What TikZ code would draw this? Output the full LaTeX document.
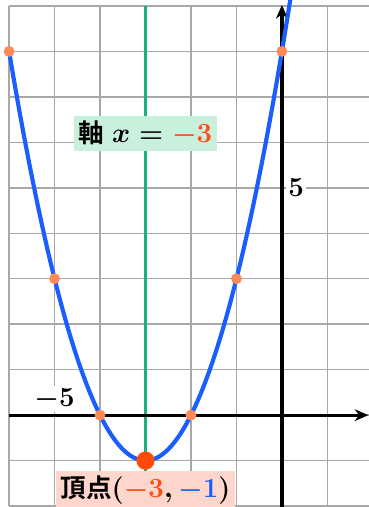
\documentclass[tikz,border=0pt]{standalone}
\usepackage{amsmath,amssymb}
\usepackage{xcolor}
\usepackage{fontspec}
\newfontfamily\jpfont{Noto Sans CJK JP Bold}
\usepackage{tikz}
\usetikzlibrary{arrows.meta,positioning}
\definecolor{parGrid}{HTML}{A8A8A8}
\definecolor{parCurve}{HTML}{1A5EFF}
\definecolor{parAxis}{HTML}{1BB07E}
\definecolor{parAxisFill}{HTML}{C9F0DD}
\definecolor{parDot}{HTML}{FF8A55}
\definecolor{parVertex}{HTML}{FF4A08}
\definecolor{parVertexFill}{HTML}{FFD6CC}
\definecolor{parRed}{HTML}{FF4A14}
\definecolor{parBlue}{HTML}{1A5EF0}
\tikzset{
  pargrid/.style={draw=parGrid,line width=0.9pt},
  paraxis/.style={-{Stealth[length=3mm,width=2.6mm]},draw=black,line width=2pt},
  parcurve/.style={draw=parCurve,line width=2.6pt},
  parsym/.style={draw=parAxis,line width=2.4pt},
  pardot/.style={circle,fill=parDot,inner sep=0pt,minimum size=2.4mm},
  parvtx/.style={circle,fill=parVertex,inner sep=0pt,minimum size=4mm},
  partick/.style={fill=white,inner sep=1.5pt,font=\fontsize{16.5}{18}\selectfont\boldmath},
  parlbl/.style={inner sep=3pt,font=\fontsize{16}{18}\selectfont\boldmath},
}
\begin{document}
\begin{tikzpicture}
  \clip (-6.2,-2.02) rectangle (1.91,9.13);
  \draw[pargrid] (-6,-2) grid (2,9);
  \draw[parsym] (-3,-2.1) -- (-3,9);
  \draw[paraxis] (-6,0) -- (1.9,0);
  \draw[paraxis] (0,-2.1) -- (0,9.02);
  \draw[parcurve] plot[domain=-6:0.2,samples=120] (\x,{(\x+3)^2-1});

  \foreach \n/\a in {p1/-6,p2/-5,p3/-4,p4/-2,p5/-1,p6/0}{
    \node[pardot] (\n) at (\a,{(\a+3)^2-1}) {};}
  \node[parvtx] (V) at (-3,-1) {};

  \node[partick] (t5) at (0.31,5) {$5$};
  \node[partick] (tm5) at (-5,0.35) {$-5$};

  \node[parlbl,fill=parAxisFill] (axlbl) at (-3,6.2)
        {{\jpfont 軸} $x=\textcolor{parRed}{-3}$};
  \node[parlbl,fill=parVertexFill] (vxlbl) at (-3,-1.65)
        {{\jpfont 頂点}$(\textcolor{parRed}{-3},\textcolor{parBlue}{-1})$};
\end{tikzpicture}
\end{document}
